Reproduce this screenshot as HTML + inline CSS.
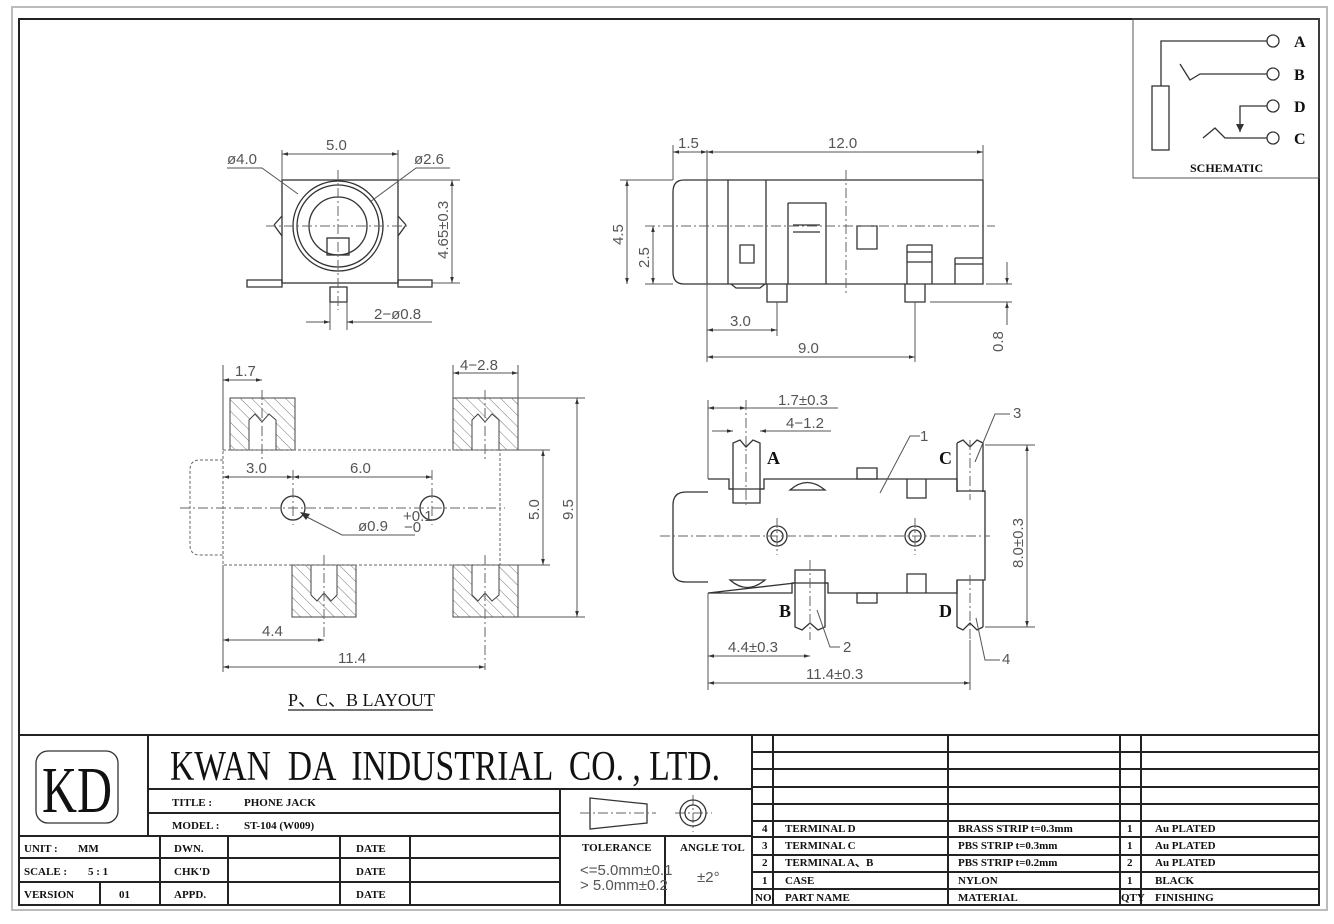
<!DOCTYPE html>
<html><head><meta charset="utf-8"><style>
html,body{margin:0;padding:0;background:#fff;}
svg{display:block;}
.l{stroke:#333;stroke-width:1.3;fill:none}
.d{stroke:#555;stroke-width:1;fill:none}
.c{stroke:#666;stroke-width:1;fill:none;stroke-dasharray:10 3 2 3}
.h{stroke:#666;stroke-width:1;fill:none;stroke-dasharray:3 2}
.t{font-family:"Liberation Sans",sans-serif;font-size:15px;fill:#555}
.s{font-family:"Liberation Serif",serif;font-weight:bold;fill:#111}
.b{stroke:#222;stroke-width:2;fill:none}
</style></head><body>
<svg width="1334" height="924" viewBox="0 0 1334 924" xmlns="http://www.w3.org/2000/svg">
<defs>
<marker id="a" viewBox="0 0 10 10" refX="10" refY="5" markerWidth="10" markerHeight="6" orient="auto-start-reverse"><path d="M0,2 L10,5 L0,8z" fill="#333"/></marker>
<pattern id="hp" width="8" height="8" patternUnits="userSpaceOnUse" patternTransform="rotate(-45)"><line x1="0" y1="0" x2="0" y2="8" stroke="#777" stroke-width="1"/></pattern>
</defs>
<rect x="12" y="7" width="1315" height="903" fill="none" stroke="#bbb" stroke-width="2"/>
<rect x="19" y="19" width="1300" height="886" class="b"/>

<!-- Schematic -->
<rect x="1133" y="19" width="186" height="159" class="d" stroke="#333"/>
<rect x="1152" y="86" width="17" height="64" class="l"/>
<path class="l" d="M1161,86 V41 H1267 M1180,64 L1190,80 L1200,74 H1267 M1240,132 V106 H1267 M1203,138 L1215,128 L1225,138 H1267"/>
<path d="M1236,124 L1240,132 L1244,124z" fill="#333"/>
<g class="l"><circle cx="1273" cy="41" r="6"/><circle cx="1273" cy="74" r="6"/><circle cx="1273" cy="106" r="6"/><circle cx="1273" cy="138" r="6"/></g>
<g class="s" font-size="16"><text x="1294" y="47">A</text><text x="1294" y="80">B</text><text x="1294" y="112">D</text><text x="1294" y="144">C</text></g>
<text x="1190" y="172" class="s" font-size="12">SCHEMATIC</text>

<!-- Front view -->
<g>
<rect x="282" y="180" width="116" height="103" class="l"/>
<circle cx="338" cy="226" r="45" class="l"/><circle cx="338" cy="226" r="41" class="l"/><circle cx="338" cy="226" r="29" class="l"/>
<rect x="327" y="238" width="22" height="17" class="l"/>
<path class="l" d="M247,280 H282 V287 H247z M398,280 H432 V287 H398z M330,287 H347 V302 H330z M274,225 L282,216 M274,225 L282,236 M406,225 L398,216 M406,225 L398,236"/>
<path class="c" d="M266,226 H410 M338,170 V310"/>
<path class="d" d="M282,180 V150 M398,180 V150" /><line x1="282" y1="154" x2="398" y2="154" class="d" marker-start="url(#a)" marker-end="url(#a)"/>
<text x="326" y="150" class="t">5.0</text>
<path class="d" d="M398,180 H460 M432,283 H460"/><line x1="452" y1="180" x2="452" y2="283" class="d" marker-start="url(#a)" marker-end="url(#a)"/>
<text transform="translate(448,259) rotate(-90)" class="t">4.65±0.3</text>
<text x="227" y="164" class="t">ø4.0</text><path class="d" d="M227,168 H262 L298,194"/>
<text x="414" y="164" class="t">ø2.6</text><path class="d" d="M450,168 H416 L370,202"/>
<path class="d" d="M330,302 V330 M347,302 V330"/><line x1="306" y1="322" x2="330" y2="322" class="d" marker-end="url(#a)"/><line x1="372" y1="322" x2="347" y2="322" class="d" marker-end="url(#a)"/><line x1="372" y1="322" x2="432" y2="322" class="d"/>
<text x="374" y="319" class="t">2−ø0.8</text>
</g>

<!-- Side view -->
<g>
<path class="l" d="M707,180 H983 V284 H707z M707,180 H684 Q673,180 673,192 V272 Q673,284 684,284 H707"/>
<path class="l" d="M728,180 V284 M766,180 V284 M788,203 H826 V284 M788,203 V284 M793,225 H820 M793,232 H820 M740,245 H754 V263 H740z M857,226 H877 V249 H857z M907,245 H932 V284 M907,245 V284 M907,252 H932 M907,262 H932 M955,258 H983 M955,264 H983 M955,258 V284 M731,284 L736,288 H760 L765,284 M767,284 V302 H787 V284 M905,284 V302 H925 V284"/>
<path class="c" d="M645,226 H995 M846,170 V296"/>
<path class="d" d="M673,180 V145 M707,284 V150 M983,180 V145 M620,180 H673 M645,284 H673"/>
<line x1="673" y1="152" x2="707" y2="152" class="d" marker-start="url(#a)" marker-end="url(#a)"/>
<line x1="707" y1="152" x2="983" y2="152" class="d" marker-start="url(#a)" marker-end="url(#a)"/>
<text x="678" y="148" class="t">1.5</text><text x="828" y="148" class="t">12.0</text>
<line x1="627" y1="180" x2="627" y2="284" class="d" marker-start="url(#a)" marker-end="url(#a)"/>
<line x1="653" y1="226" x2="653" y2="284" class="d" marker-start="url(#a)" marker-end="url(#a)"/>
<text transform="translate(623,245) rotate(-90)" class="t">4.5</text>
<text transform="translate(649,268) rotate(-90)" class="t">2.5</text>
<path class="d" d="M777,302 V336 M915,302 V362 M707,284 V362 M986,284 H1012 M930,302 H1012"/>
<line x1="707" y1="330" x2="777" y2="330" class="d" marker-start="url(#a)" marker-end="url(#a)"/>
<line x1="707" y1="357" x2="915" y2="357" class="d" marker-start="url(#a)" marker-end="url(#a)"/>
<text x="730" y="326" class="t">3.0</text><text x="798" y="353" class="t">9.0</text>
<line x1="1007" y1="262" x2="1007" y2="284" class="d" marker-end="url(#a)"/>
<line x1="1007" y1="325" x2="1007" y2="302" class="d" marker-end="url(#a)"/>
<text transform="translate(1003,352) rotate(-90)" class="t">0.8</text>
</g>

<!-- Layout -->
<g>
<rect x="230" y="398" width="65" height="52" fill="url(#hp)" stroke="#444"/>
<rect x="453" y="398" width="65" height="52" fill="url(#hp)" stroke="#444"/>
<rect x="292" y="565" width="64" height="52" fill="url(#hp)" stroke="#444"/>
<rect x="453" y="565" width="65" height="52" fill="url(#hp)" stroke="#444"/>
<g fill="#fff" stroke="#444">
<path d="M249,450 V420 L255,414 L262,422 L269,414 L276,420 V450z"/>
<path d="M472,450 V420 L478,414 L485,422 L492,414 L499,420 V450z"/>
<path d="M311,565 V595 L317,601 L324,593 L331,601 L337,595 V565z"/>
<path d="M472,565 V595 L478,601 L485,593 L492,601 L499,595 V565z"/>
</g>
<rect x="223" y="450" width="277" height="115" class="h"/>
<path class="h" d="M223,460 H200 Q190,460 190,470 V545 Q190,555 200,555 H223"/>
<circle cx="293" cy="508" r="12" class="l"/><circle cx="432" cy="508" r="12" class="l"/>
<path class="c" d="M180,508 H505 M293,470 V525 M432,470 V525 M262,390 V460 M485,390 V460 M324,555 V640 M485,555 V670"/>
<path class="d" d="M223,450 V365 M223,565 V672 M453,398 V365 M518,398 V365 M518,398 H585 M518,617 H585 M500,450 H550 M500,565 H550"/>
<line x1="223" y1="380" x2="262" y2="380" class="d" marker-start="url(#a)" marker-end="url(#a)"/>
<line x1="453" y1="373" x2="518" y2="373" class="d" marker-start="url(#a)" marker-end="url(#a)"/>
<text x="235" y="376" class="t">1.7</text><text x="460" y="370" class="t">4−2.8</text>
<line x1="223" y1="477" x2="293" y2="477" class="d" marker-start="url(#a)" marker-end="url(#a)"/>
<line x1="293" y1="477" x2="432" y2="477" class="d" marker-start="url(#a)" marker-end="url(#a)"/>
<text x="246" y="473" class="t">3.0</text><text x="350" y="473" class="t">6.0</text>
<line x1="543" y1="450" x2="543" y2="565" class="d" marker-start="url(#a)" marker-end="url(#a)"/>
<line x1="577" y1="398" x2="577" y2="617" class="d" marker-start="url(#a)" marker-end="url(#a)"/>
<text transform="translate(539,520) rotate(-90)" class="t">5.0</text>
<text transform="translate(573,520) rotate(-90)" class="t">9.5</text>
<path class="d" d="M415,535 H342 L303,515"/><path d="M300,512 L310,514 L306,520z" fill="#333"/>
<text x="358" y="531" class="t">ø0.9</text><text x="403" y="521" class="t" font-size="8">+0.1</text><text x="404" y="532" class="t" font-size="8">−0</text>
<line x1="223" y1="640" x2="324" y2="640" class="d" marker-start="url(#a)" marker-end="url(#a)"/>
<line x1="223" y1="667" x2="485" y2="667" class="d" marker-start="url(#a)" marker-end="url(#a)"/>
<text x="262" y="636" class="t">4.4</text><text x="338" y="663" class="t">11.4</text>
<text x="288" y="706" class="s" font-size="18" style="font-weight:normal">P、C、B LAYOUT</text>
<line x1="288" y1="710" x2="433" y2="710" stroke="#222" stroke-width="1.3"/>
</g>

<!-- Bottom view -->
<g>
<path class="l" d="M708,479 H729 V489 H733 M760,489 H764 V479 H957 V491 H985 V580 H957 V593 H828 V583 H825 M795,583 H792 V593 H708z M708,492 H686 Q673,492 673,505 V570 Q673,582 686,582 H708"/>
<path class="l" d="M733,443 V503 H760 V443 L753,440 L746,447 L740,440z M729,489 H764 M957,443 V492 M983,443 V492 M957,443 L963,440 L970,447 L977,440 L983,443 M795,627 V570 H825 V627 L818,630 L810,623 L802,630z M792,583 H828 M957,580 V627 M983,580 V627 M957,627 L963,630 L970,623 L977,630 L983,627"/>
<path class="l" d="M790,490 Q807,475 825,490z M730,580 Q747,595 765,580z M857,468 H877 V479 H857z M857,593 H877 V603 H857z M907,479 V498 H926 V479 M907,593 V574 H926 V593"/>
<g class="l"><circle cx="777" cy="536" r="10"/><circle cx="777" cy="536" r="6"/><circle cx="915" cy="536" r="10"/><circle cx="915" cy="536" r="6"/></g>
<path class="c" d="M660,536 H990 M777,518 V555 M915,518 V555 M746,400 V505 M810,560 V640 M970,440 V500 M970,575 V640"/>
<path class="d" d="M708,479 V400 M708,593 V690 M970,640 V690 M985,445 H1035 M985,627 H1035"/>
<line x1="708" y1="408" x2="746" y2="408" class="d" marker-start="url(#a)" marker-end="url(#a)"/><line x1="746" y1="408" x2="838" y2="408" class="d"/>
<line x1="712" y1="431" x2="733" y2="431" class="d" marker-end="url(#a)"/><line x1="780" y1="431" x2="760" y2="431" class="d" marker-end="url(#a)"/><line x1="780" y1="431" x2="831" y2="431" class="d"/>
<text x="778" y="405" class="t">1.7±0.3</text><text x="786" y="428" class="t">4−1.2</text>
<line x1="1027" y1="445" x2="1027" y2="627" class="d" marker-start="url(#a)" marker-end="url(#a)"/>
<text transform="translate(1023,568) rotate(-90)" class="t">8.0±0.3</text>
<line x1="708" y1="656" x2="810" y2="656" class="d" marker-start="url(#a)" marker-end="url(#a)"/>
<line x1="708" y1="683" x2="970" y2="683" class="d" marker-start="url(#a)" marker-end="url(#a)"/>
<text x="728" y="652" class="t">4.4±0.3</text><text x="806" y="679" class="t">11.4±0.3</text>
<path class="d" d="M880,493 L910,436 H920 M975,462 L995,414 H1010 M817,610 L830,647 H840 M976,618 L985,660 H1000"/>
<text x="920" y="441" class="t">1</text><text x="1013" y="418" class="t">3</text><text x="843" y="652" class="t">2</text><text x="1002" y="664" class="t">4</text>
<g class="s" font-size="18"><text x="767" y="464">A</text><text x="939" y="464">C</text><text x="779" y="617">B</text><text x="939" y="617">D</text></g>
</g>

<!-- Title block -->
<g class="b">
<line x1="19" y1="735" x2="1319" y2="735"/>
<path d="M148,735 V836 M148,789 H752 M148,813 H560 M19,836 H752 M19,858 H560 M19,882 H560 M160,836 V905 M100,882 V905 M228,836 V905 M340,836 V905 M410,836 V905 M560,789 V905 M665,836 V905 M752,735 V905"/>
<path d="M752,752 H1319 M752,769 H1319 M752,787 H1319 M752,804 H1319 M752,821 H1319 M752,837 H1319 M752,855 H1319 M752,872 H1319 M752,889 H1319 M773,735 V905 M948,735 V905 M1120,735 V905 M1141,735 V905"/>
</g>
<rect x="36" y="751" width="82" height="72" rx="12" fill="none" stroke="#333" stroke-width="1.3"/>
<text x="42" y="812" class="s" font-size="66" style="font-weight:normal" textLength="70" lengthAdjust="spacingAndGlyphs">KD</text>
<text x="170" y="780" class="s" font-size="42" style="font-weight:normal" xml:space="preserve" textLength="550" lengthAdjust="spacingAndGlyphs">KWAN  DA  INDUSTRIAL  CO. , LTD.</text>
<g class="s" font-size="11">
<text x="172" y="806">TITLE  :</text><text x="244" y="806">PHONE JACK</text>
<text x="172" y="829">MODEL  :</text><text x="244" y="829">ST-104  (W009)</text>
<text x="24" y="852">UNIT  :</text><text x="78" y="852">MM</text>
<text x="24" y="875">SCALE  :</text><text x="88" y="875">5 : 1</text>
<text x="24" y="898">VERSION</text><text x="119" y="898">01</text>
<text x="174" y="852">DWN.</text><text x="174" y="875">CHK'D</text><text x="174" y="898">APPD.</text>
<text x="356" y="852">DATE</text><text x="356" y="875">DATE</text><text x="356" y="898">DATE</text>
<text x="582" y="851">TOLERANCE</text><text x="680" y="851">ANGLE TOL</text>
<text x="762" y="832">4</text><text x="762" y="849">3</text><text x="762" y="866">2</text><text x="762" y="884">1</text><text x="755" y="901">NO.</text>
<text x="785" y="832">TERMINAL  D</text><text x="785" y="849">TERMINAL  C</text><text x="785" y="866">TERMINAL  A、B</text><text x="785" y="884">CASE</text><text x="785" y="901">PART  NAME</text>
<text x="958" y="832">BRASS STRIP  t=0.3mm</text><text x="958" y="849">PBS STRIP    t=0.3mm</text><text x="958" y="866">PBS STRIP    t=0.2mm</text><text x="958" y="884">NYLON</text><text x="958" y="901">MATERIAL</text>
<text x="1127" y="832">1</text><text x="1127" y="849">1</text><text x="1127" y="866">2</text><text x="1127" y="884">1</text><text x="1121" y="901">QTY</text>
<text x="1155" y="832">Au PLATED</text><text x="1155" y="849">Au PLATED</text><text x="1155" y="866">Au PLATED</text><text x="1155" y="884">BLACK</text><text x="1155" y="901">FINISHING</text>
</g>
<text x="580" y="875" class="t" font-size="12">&lt;=5.0mm±0.1</text>
<text x="580" y="890" class="t" font-size="12">&gt; 5.0mm±0.2</text>
<text x="697" y="882" class="t" font-size="12">±2°</text>
<path class="l" d="M590,798 L647,804 V823 L590,829z"/>
<path class="c" d="M580,813 H656 M693,795 V832 M675,813 H712"/>
<circle cx="693" cy="813" r="13" class="l"/><circle cx="693" cy="813" r="8" class="l"/>
</svg>
</body></html>
